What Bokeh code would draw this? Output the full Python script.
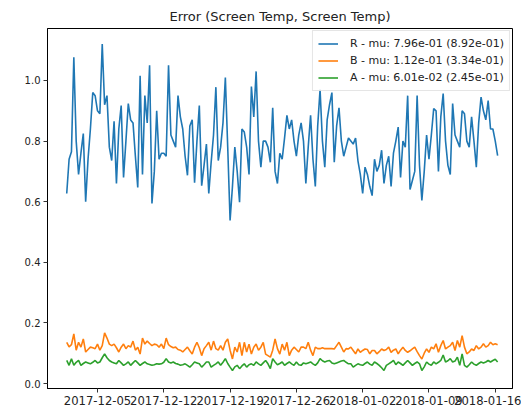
import pandas as pd
from bokeh.plotting import figure
from bokeh.models import FixedTicker, DatetimeTickFormatter, Range1d, NumeralTickFormatter
from bokeh.embed import file_html
from bokeh.resources import INLINE

start_time = "2017-12-01 18:00"
step = "6h"

r_vals = [
    0.627, 0.74, 0.765, 1.077, 0.80, 0.69, 0.76, 0.825, 0.60, 0.74,
    0.84, 0.96, 0.95, 0.90, 0.89, 1.12, 0.92, 0.95, 0.78, 0.736,
    0.865, 0.66, 0.84, 0.917, 0.68, 0.80, 0.924, 0.87, 0.86, 0.75,
    0.647, 1.016, 0.69, 0.95, 0.86, 1.05, 0.594, 0.70, 0.90, 0.74,
    0.76, 0.76, 0.75, 1.05, 0.82, 0.80, 0.78, 0.95, 0.88, 0.84,
    0.75, 0.687, 0.85, 0.87, 0.663, 0.80, 0.917, 0.653, 0.72, 0.79,
    0.627, 0.73, 0.82, 0.978, 0.736, 0.78, 0.86, 1.01, 0.78, 0.538,
    0.65, 0.78, 0.70, 0.598, 0.84, 0.83, 0.78, 0.69, 0.98, 0.88,
    1.03, 0.80, 0.714, 0.80, 0.80, 0.78, 0.73, 0.91, 0.70, 0.66,
    0.76, 0.74, 0.81, 0.885, 0.84, 0.87, 0.80, 0.75, 0.82, 0.86,
    0.80, 0.66, 0.78, 0.885, 0.74, 0.65, 0.85, 0.97, 0.80, 0.714,
    0.87, 0.92, 0.96, 0.73, 0.85, 0.91, 0.80, 0.75, 0.78, 0.81,
    0.80, 0.79, 0.81, 0.735, 0.69, 0.627, 0.714, 0.69, 0.65, 0.62,
    0.74, 0.70, 0.72, 0.77, 0.66, 0.72, 0.75, 0.65, 0.76, 0.80,
    0.846, 0.68, 0.80, 0.78, 0.95, 0.64, 0.67, 0.70, 0.95, 0.72,
    0.604, 0.70, 0.82, 0.74, 0.82, 0.907, 0.90, 0.70, 0.88, 0.957,
    0.80, 0.72, 0.69, 0.924, 0.82, 0.80, 0.78, 0.90, 0.89, 0.80,
    0.78, 0.88, 0.80, 0.714, 0.86, 0.945, 0.90, 0.87, 0.934, 0.84,
    0.84, 0.80, 0.752,
]

b_vals = [
    0.136, 0.121, 0.128, 0.164, 0.110, 0.136, 0.120, 0.147, 0.104, 0.112,
    0.120, 0.118, 0.115, 0.130, 0.110, 0.125, 0.167, 0.150, 0.130, 0.125,
    0.130, 0.118, 0.104, 0.120, 0.130, 0.115, 0.125, 0.120, 0.140, 0.110,
    0.120, 0.097, 0.150, 0.130, 0.140, 0.132, 0.125, 0.130, 0.128, 0.120,
    0.130, 0.115, 0.150, 0.128, 0.122, 0.118, 0.120, 0.112, 0.110, 0.104,
    0.112, 0.120, 0.108, 0.097, 0.120, 0.136, 0.118, 0.092, 0.115, 0.125,
    0.136, 0.110, 0.140, 0.115, 0.110, 0.125, 0.110, 0.136, 0.147, 0.110,
    0.081, 0.120, 0.104, 0.136, 0.092, 0.136, 0.104, 0.130, 0.097, 0.120,
    0.130, 0.110, 0.120, 0.136, 0.097, 0.092, 0.087, 0.110, 0.147, 0.115,
    0.097, 0.130, 0.110, 0.136, 0.092, 0.110, 0.120, 0.112, 0.104, 0.120,
    0.120, 0.115, 0.136, 0.110, 0.092, 0.120, 0.115, 0.115, 0.118, 0.115,
    0.115, 0.115, 0.115, 0.114, 0.125, 0.136, 0.120, 0.104, 0.115, 0.114,
    0.120, 0.109, 0.098, 0.114, 0.103, 0.109, 0.114, 0.112, 0.098, 0.109,
    0.109, 0.098, 0.105, 0.114, 0.109, 0.112, 0.120, 0.103, 0.110, 0.114,
    0.098, 0.110, 0.120, 0.109, 0.103, 0.108, 0.114, 0.120, 0.105, 0.092,
    0.081, 0.100, 0.114, 0.103, 0.120, 0.114, 0.131, 0.103, 0.125, 0.142,
    0.114, 0.120, 0.125, 0.136, 0.109, 0.142, 0.120, 0.158, 0.120, 0.098,
    0.104, 0.114, 0.109, 0.125, 0.114, 0.120, 0.131, 0.120, 0.125, 0.136,
    0.128, 0.131, 0.128,
]

a_vals = [
    0.076, 0.060, 0.082, 0.060, 0.070, 0.076, 0.060, 0.066, 0.071, 0.068,
    0.065, 0.070, 0.076, 0.068, 0.071, 0.085, 0.098, 0.085, 0.076, 0.071,
    0.068, 0.065, 0.076, 0.068, 0.060, 0.065, 0.071, 0.060, 0.068, 0.076,
    0.068, 0.060, 0.066, 0.071, 0.065, 0.063, 0.060, 0.062, 0.065, 0.064,
    0.065, 0.070, 0.082, 0.071, 0.068, 0.071, 0.066, 0.064, 0.060, 0.062,
    0.065, 0.060, 0.054, 0.062, 0.071, 0.068, 0.065, 0.054, 0.062, 0.071,
    0.071, 0.054, 0.060, 0.065, 0.071, 0.060, 0.070, 0.082, 0.066, 0.054,
    0.043, 0.055, 0.060, 0.049, 0.058, 0.065, 0.054, 0.062, 0.065, 0.060,
    0.071, 0.065, 0.060, 0.068, 0.076, 0.065, 0.049, 0.082, 0.071, 0.062,
    0.066, 0.071, 0.060, 0.066, 0.071, 0.065, 0.060, 0.071, 0.062, 0.060,
    0.068, 0.065, 0.068, 0.071, 0.065, 0.060, 0.068, 0.082, 0.075, 0.071,
    0.074, 0.076, 0.068, 0.065, 0.068, 0.071, 0.074, 0.076, 0.070, 0.065,
    0.065, 0.054, 0.060, 0.065, 0.062, 0.060, 0.066, 0.071, 0.064, 0.060,
    0.071, 0.066, 0.060, 0.052, 0.043, 0.060, 0.065, 0.070, 0.076, 0.062,
    0.071, 0.066, 0.060, 0.068, 0.076, 0.068, 0.060, 0.066, 0.071, 0.065,
    0.043, 0.055, 0.071, 0.064, 0.060, 0.071, 0.065, 0.070, 0.076, 0.094,
    0.071, 0.075, 0.082, 0.071, 0.074, 0.087, 0.060, 0.098, 0.060, 0.054,
    0.062, 0.071, 0.064, 0.060, 0.066, 0.071, 0.068, 0.071, 0.076, 0.071,
    0.076, 0.080, 0.071,
]

series_labels = [
    "R - mu: 7.96e-01 (8.92e-01)",
    "B - mu: 1.12e-01 (3.34e-01)",
    "A - mu: 6.01e-02 (2.45e-01)",
]
series_colors = ["#1f77b4", "#ff7f0e", "#2ca02c"]
x_tick_dates = ["2017-12-05", "2017-12-12", "2017-12-19", "2017-12-26",
                "2018-01-02", "2018-01-09", "2018-01-16"]
y_ticks = [0.0, 0.2, 0.4, 0.6, 0.8, 1.0]
title_text = "Error (Screen Temp, Screen Temp)"

dates = pd.date_range(start_time, periods=len(r_vals), freq=step)

FONT = "DejaVu Sans"
p = figure(
    x_axis_type="datetime",
    frame_width=465, frame_height=360,
    min_border_left=47, min_border_right=9, min_border_top=28, min_border_bottom=0,
    output_backend="svg", toolbar_location=None,
    x_range=Range1d(pd.Timestamp("2017-11-29 17:17"), pd.Timestamp("2018-01-17 19:41")),
    y_range=Range1d(-0.0165, 1.1716),
)
p.title.text = title_text
p.title.align = "center"
p.title.text_font = FONT
p.title.text_font_size = "13px"
p.title.text_font_style = "normal"
p.title.text_color = "#222222"
p.title.standoff = 10

for vals, lab, col in zip([r_vals, b_vals, a_vals], series_labels, series_colors):
    p.line(dates, vals, line_color=col, line_width=1.6, legend_label=lab)

p.xgrid.visible = False
p.ygrid.visible = False
p.outline_line_color = "black"
p.outline_line_width = 1
p.background_fill_color = "white"
p.border_fill_color = "white"

ms = [int(pd.Timestamp(d).value // 10**6) for d in x_tick_dates]
p.xaxis.ticker = FixedTicker(ticks=ms)
fmt = "%Y-%m-%d"
p.xaxis.formatter = DatetimeTickFormatter(
    milliseconds=fmt, seconds=fmt, minsec=fmt, minutes=fmt, hourmin=fmt,
    hours=fmt, days=fmt, months=fmt, years=fmt)
p.yaxis.ticker = FixedTicker(ticks=y_ticks)
p.yaxis.formatter = NumeralTickFormatter(format="0.0")

for ax in (p.xaxis, p.yaxis):
    ax.major_tick_in = 0
    ax.major_tick_out = 4
    ax.minor_tick_in = 0
    ax.minor_tick_out = 0
    ax.axis_line_color = "black"
    ax.major_tick_line_color = "#333333"
    ax.major_label_text_font = FONT
    ax.major_label_text_color = "#222222"
    ax.major_label_standoff = 3
p.xaxis.major_label_text_font_size = "11.6px"
p.yaxis.major_label_text_font_size = "10px"

lg = p.legend[0]
lg.location = "top_right"
lg.margin = 2
lg.padding = 5
lg.spacing = 2
lg.label_height = 15
lg.glyph_height = 15
lg.glyph_width = 20
lg.label_standoff = 12
lg.label_text_font = FONT
lg.label_text_font_size = "11px"
lg.label_text_color = "#222222"
lg.border_line_color = "#cccccc"
lg.border_line_width = 1
lg.background_fill_alpha = 0.8

open("out.html", "w").write(file_html(p, INLINE))
